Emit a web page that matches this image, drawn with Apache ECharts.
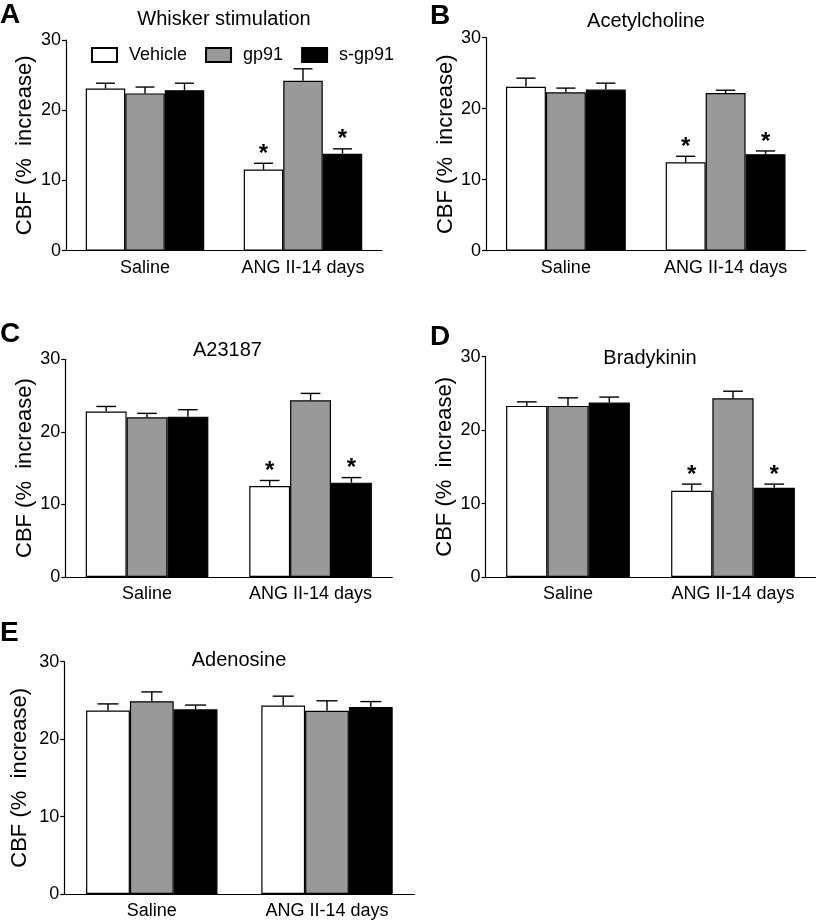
<!DOCTYPE html>
<html>
<head>
<meta charset="utf-8">
<script src="https://cdn.jsdelivr.net/npm/echarts@6/dist/echarts.min.js"></script>
<style>html,body{margin:0;padding:0;background:#fff}#c{width:817px;height:920px}</style>
</head>
<body>
<div id="c"></div>
<script>
// ---- data ----
const categories = ['Saline', 'ANG II-14 days'];
const seriesNames = ['Vehicle', 'gp91', 's-gp91'];
const yTicks = [0, 10, 20, 30];

const titles = ['Whisker stimulation', 'Acetylcholine', 'A23187', 'Bradykinin', 'Adenosine'];
const letters = ['A', 'B', 'C', 'D', 'E'];

const A_vehicle = [23.1, 11.55], A_vehicleSem = [0.75, 0.9];
const A_gp91 = [22.4, 24.2],     A_gp91Sem = [0.9, 1.7];
const A_sgp91 = [22.85, 13.8],   A_sgp91Sem = [1.0, 0.7];

const B_vehicle = [23.1, 12.45], B_vehicleSem = [1.2, 0.85];
const B_gp91 = [22.3, 22.2],     B_gp91Sem = [0.6, 0.4];
const B_sgp91 = [22.7, 13.6],    B_sgp91Sem = [0.9, 0.45];

const C_vehicle = [22.8, 12.55], C_vehicleSem = [0.7, 0.75];
const C_gp91 = [22.0, 24.35],    C_gp91Sem = [0.55, 0.95];
const C_sgp91 = [22.1, 13.0],    C_sgp91Sem = [0.95, 0.7];

const D_vehicle = [23.3, 11.75], D_vehicleSem = [0.55, 0.9];
const D_gp91 = [23.3, 24.35],    D_gp91Sem = [1.1, 0.95];
const D_sgp91 = [23.75, 12.15],  D_sgp91Sem = [0.75, 0.5];

const E_vehicle = [23.7, 24.35], E_vehicleSem = [0.85, 1.2];
const E_gp91 = [24.9, 23.65],    E_gp91Sem = [1.2, 1.3];
const E_sgp91 = [23.85, 24.15],  E_sgp91Sem = [0.55, 0.7];

// significance (*) flags per panel: [series][category]
const A_sig = [[0, 1], [0, 0], [0, 1]];
const B_sig = [[0, 1], [0, 0], [0, 1]];
const C_sig = [[0, 1], [0, 0], [0, 1]];
const D_sig = [[0, 1], [0, 0], [0, 1]];
const E_sig = [[0, 0], [0, 0], [0, 0]];

// ---- layout / styles ----
const FONT = '"Liberation Sans", Arial, sans-serif';
const colors = ['#ffffff', '#999999', '#000000'];
const panels = [
  { means: [A_vehicle, A_gp91, A_sgp91], sems: [A_vehicleSem, A_gp91Sem, A_sgp91Sem], sig: A_sig,
    grid: { left: 66, top: 40, width: 316, height: 210.7 }, nameGap: 30,
    title: [224, 19.5], letter: [0, 15] },
  { means: [B_vehicle, B_gp91, B_sgp91], sems: [B_vehicleSem, B_gp91Sem, B_sgp91Sem], sig: B_sig,
    grid: { left: 486, top: 37.7, width: 319.5, height: 213 }, nameGap: 24,
    title: [646, 21.7], letter: [430, 16] },
  { means: [C_vehicle, C_gp91, C_sgp91], sems: [C_vehicleSem, C_gp91Sem, C_sgp91Sem], sig: C_sig,
    grid: { left: 65.3, top: 359.3, width: 327, height: 217.7 }, nameGap: 29,
    title: [227.5, 350], letter: [0, 334] },
  { means: [D_vehicle, D_gp91, D_sgp91], sems: [D_vehicleSem, D_gp91Sem, D_sgp91Sem], sig: D_sig,
    grid: { left: 485.5, top: 356.7, width: 330, height: 220.3 }, nameGap: 30,
    title: [650, 358.3], letter: [430, 337] },
  { means: [E_vehicle, E_gp91, E_sgp91], sems: [E_vehicleSem, E_gp91Sem, E_sgp91Sem], sig: E_sig,
    grid: { left: 64.2, top: 661.7, width: 350.4, height: 234.3 }, nameGap: 33,
    title: [239, 660.3], letter: [0, 633] }
];

const grids = [], xAxes = [], yAxes = [], series = [], graphics = [];

function errRender(params, api) {
  const cat = api.value(0), s = api.value(1), mean = api.value(2), sem = api.value(3), star = api.value(4);
  const band = api.size([1, 0])[0];
  const bw = band * 0.75 / 3;
  const cx = api.coord([cat, 0])[0] + (s - 1) * bw;
  const yb = api.coord([cat, mean])[1];
  const yt = api.coord([cat, mean + sem])[1];
  const half = bw * 0.24;
  const st = { stroke: '#000', lineWidth: 1.4 };
  const children = [
    { type: 'line', shape: { x1: cx, y1: yb, x2: cx, y2: yt }, style: st },
    { type: 'line', shape: { x1: cx - half, y1: yt, x2: cx + half, y2: yt }, style: st }
  ];
  if (star) {
    children.push({ type: 'text', x: cx, y: yt + 3,
      style: { text: '*', font: 'bold 24px ' + FONT, fill: '#000', align: 'center', verticalAlign: 'bottom' } });
  }
  return { type: 'group', children };
}

panels.forEach((p, gi) => {
  grids.push(Object.assign({ containLabel: false }, p.grid));
  xAxes.push({
    type: 'category', gridIndex: gi, data: categories,
    axisLine: { lineStyle: { color: '#000', width: 1.2 } },
    axisTick: { show: false },
    axisLabel: { color: '#000', fontSize: 18, fontFamily: FONT, margin: 8, interval: 0 }
  });
  yAxes.push({
    type: 'value', gridIndex: gi, min: 0, max: 30, interval: 10,
    name: 'CBF (%  increase)', nameLocation: 'middle', nameGap: p.nameGap,
    nameTextStyle: { color: '#000', fontSize: 22, fontFamily: FONT },
    axisLine: { show: true, lineStyle: { color: '#000', width: 1.2 } },
    axisTick: { show: true, length: 4, lineStyle: { color: '#000', width: 1.2 } },
    axisLabel: { color: '#000', fontSize: 18, fontFamily: FONT, margin: 5,
      formatter: v => yTicks.indexOf(v) >= 0 ? String(v) : '' },
    splitLine: { show: false }
  });
  const errData = [];
  seriesNames.forEach((name, si) => {
    series.push({
      type: 'bar', name, xAxisIndex: gi, yAxisIndex: gi, data: p.means[si],
      barGap: '0%', barCategoryGap: '25%',
      itemStyle: { color: colors[si], borderColor: '#000', borderWidth: 1.2 },
      emphasis: { disabled: true }, silent: true, animation: false
    });
    categories.forEach((c, ci) => {
      errData.push([ci, si, p.means[si][ci], p.sems[si][ci], p.sig[si][ci]]);
    });
  });
  series.push({
    type: 'custom', xAxisIndex: gi, yAxisIndex: gi, data: errData, renderItem: errRender,
    encode: { x: 0, y: 2 }, z: 5, silent: true, animation: false
  });
  graphics.push({ type: 'text', x: p.title[0], y: p.title[1],
    style: { text: titles[gi], font: '20px ' + FONT, fill: '#000', align: 'center', verticalAlign: 'middle' } });
  graphics.push({ type: 'text', x: p.letter[0], y: p.letter[1],
    style: { text: letters[gi], font: 'bold 28px ' + FONT, fill: '#000', align: 'left', verticalAlign: 'middle' } });
});

const chart = echarts.init(document.getElementById('c'), null, { renderer: 'canvas' });
chart.setOption({
  animation: false,
  backgroundColor: '#fff',
  grid: grids, xAxis: xAxes, yAxis: yAxes, series,
  legend: {
    data: seriesNames, left: 86, top: 41, icon: 'rect',
    itemWidth: 25, itemHeight: 14, itemGap: 18, selectedMode: false,
    textStyle: { color: '#000', fontSize: 18, fontFamily: FONT, padding: [0, 0, 0, 7] }
  },
  graphic: graphics
});
</script>
</body>
</html>
